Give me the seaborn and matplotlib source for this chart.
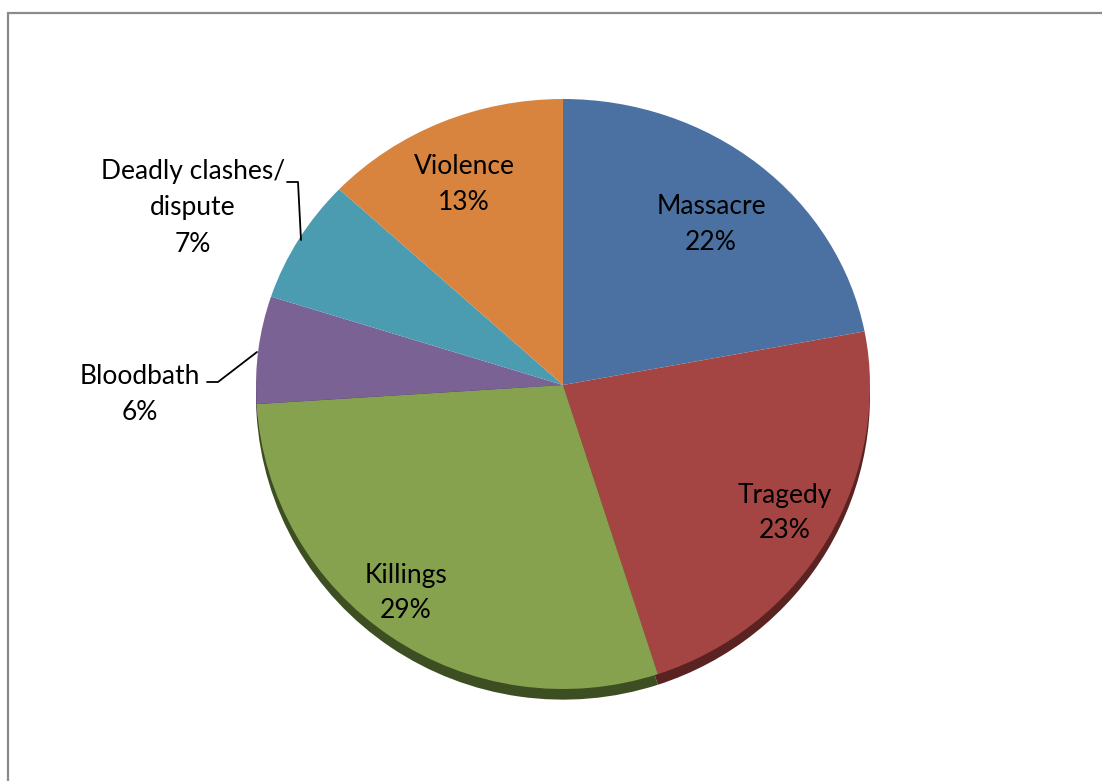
import matplotlib
matplotlib.use("Agg")
import matplotlib.pyplot as plt
from matplotlib.patches import Rectangle
import seaborn as sns

# Data
categories = ["Massacre", "Tragedy", "Killings", "Bloodbath", "Deadly clashes/\ndispute", "Violence"]
shares = [22, 23, 29, 6, 7, 13]
colors = ["#4A71A1", "#A54543", "#86A24F", "#7A6294", "#4B9CB1", "#D8843F"]
rim_colors = ["#2C4463", "#5A2322", "#3D4F22", "#433551", "#265664", "#7A4620"]

# label layout in pixels (x, y from top-left)
label_px = {
    "Massacre": (711, 225),
    "Tragedy": (785, 513),
    "Killings": (406, 593),
    "Bloodbath": (140, 395),
    "Deadly clashes/\ndispute": (193, 208),
    "Violence": (464, 185),
}
leader_px = {
    "Deadly clashes/\ndispute": [(287, 182), (298, 182), (301, 240)],
    "Bloodbath": [(207, 382), (218, 382), (257, 352)],
}

sns.set_theme(style="white")
plt.rcParams["font.family"] = ["Lato", "DejaVu Sans"]

W, H = 1102, 781
fig = plt.figure(figsize=(W / 100, H / 100), dpi=100)
fig.patch.set_facecolor("white")


def px(x, y):
    return x / W, (H - y) / H


# pie seen slightly from above: upper half flatter than lower half
cx, cy = 563, 385
rx, r_top, r_bot = 307, 286, 304
rim = 0.035

ax_top = fig.add_axes([(cx - rx) / W, (H - cy) / H, 2 * rx / W, r_top / H])
ax_bot = fig.add_axes([(cx - rx) / W, (H - cy - r_bot * (1 + rim)) / H,
                       2 * rx / W, r_bot * (1 + rim) / H])

for ax, lims in [(ax_top, (0, 1)), (ax_bot, (-1 - rim, 0))]:
    wedges = []
    if ax is ax_bot:
        w, _ = ax.pie(shares, colors=rim_colors, startangle=90, counterclock=False,
                      center=(0, -rim), radius=1, wedgeprops=dict(linewidth=0))
        wedges += w
    w, _ = ax.pie(shares, colors=colors, startangle=90, counterclock=False,
                  radius=1, wedgeprops=dict(linewidth=0))
    wedges += w
    for p in wedges:
        p.set_clip_on(True)
        p.set_clip_box(ax.bbox)
    ax.set_aspect("auto")
    ax.set_xlim(-1, 1)
    ax.set_ylim(*lims)
    ax.axis("off")

for cat, val in zip(categories, shares):
    x, y = px(*label_px[cat])
    fig.text(x, y, f"{cat}\n{val}%", ha="center", va="center", fontsize=19,
             color="black", linespacing=1.55)

for cat, pts in leader_px.items():
    xs = [px(*p)[0] for p in pts]
    ys = [px(*p)[1] for p in pts]
    fig.add_artist(plt.Line2D(xs, ys, transform=fig.transFigure, color="black", lw=1.3))

# outer frame
fig.add_artist(Rectangle((8 / W, -0.05), 1.2, (H - 13) / H + 0.05,
                         transform=fig.transFigure, fill=False,
                         edgecolor="#8a8a8a", lw=1.6))

fig.savefig("out.png", dpi=100)
